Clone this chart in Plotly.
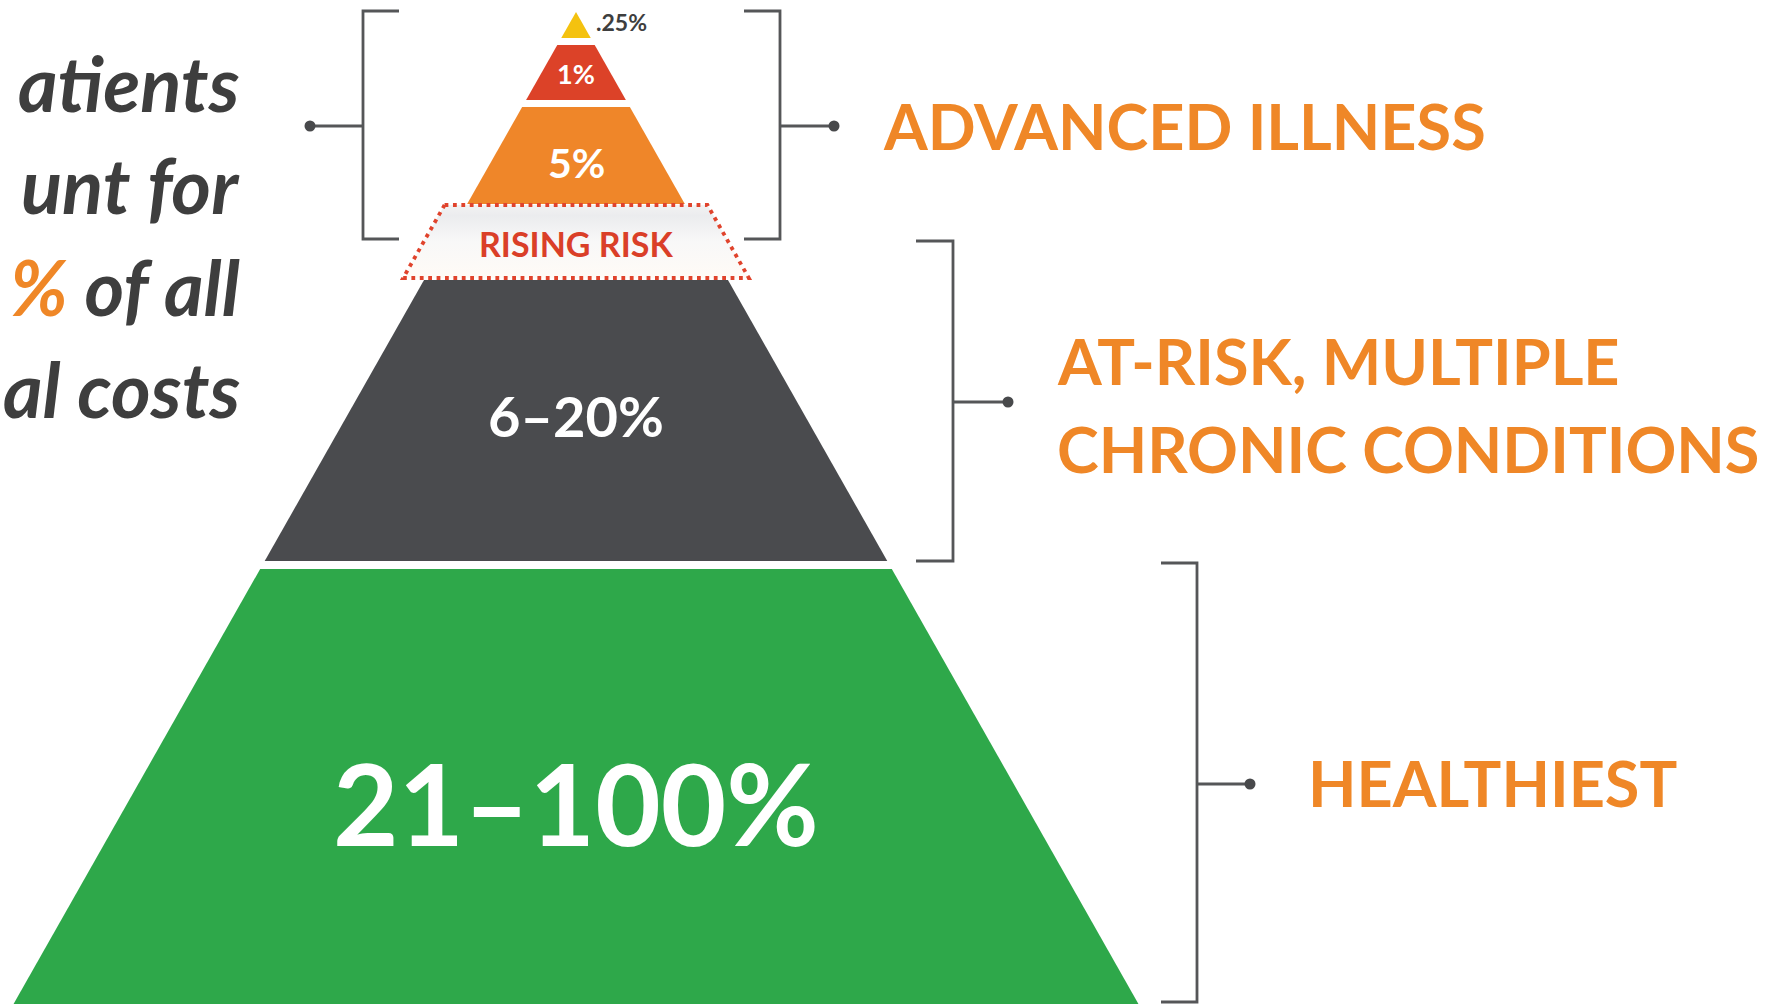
import plotly.graph_objects as go

# ---------------- content ----------------
tier_labels = [".25%", "1%", "5%", "RISING RISK", "6–20%", "21–100%"]
group_lines = [["ADVANCED ILLNESS"], ["AT-RISK, MULTIPLE", "CHRONIC CONDITIONS"], ["HEALTHIEST"]]
side_lines = ["atients", "unt for", "<span style='color:#ef8727'>%</span> of all", "al costs"]

# ---------------- geometry / style ----------------
W, H = 1777, 1004
APEX_X, APEX_Y, SLOPE = 576, 12, 0.567
band_top = [12, 45, 107, 204, 280, 569]
band_bot = [38, 100, 204, 278, 561, 1004]
band_col = ["#f4c20f", "#dc4228", "#ef8629", None, "#4a4b4e", "#2ea84a"]
RISK_OUT = 22

ORANGE = "#ef8727"
GRAY = "#555658"
TXT = "#3e3e3e"
FONT = "Lato"

fig = go.Figure()


def half(y):
    return SLOPE * (y - APEX_Y)


for t, b, c in zip(band_top, band_bot, band_col):
    if c is None:
        continue
    xs = [APEX_X - half(t), APEX_X + half(t), APEX_X + half(b), APEX_X - half(b), APEX_X - half(t)]
    ys = [t, t, b, b, t]
    fig.add_trace(go.Scatter(x=xs, y=ys, mode="lines", fill="toself", fillcolor=c,
                             line=dict(width=0, color=c), hoverinfo="skip", showlegend=False))

# rising-risk band (dotted outline, light gradient fill)
t, b = band_top[3] + 1, band_bot[3]
rx = [APEX_X - half(t) - RISK_OUT, APEX_X + half(t) + RISK_OUT,
      APEX_X + half(b) + RISK_OUT, APEX_X - half(b) - RISK_OUT, APEX_X - half(t) - RISK_OUT]
ry = [t, t, b, b, t]
fig.add_trace(go.Scatter(x=rx, y=ry, mode="lines", fill="toself",
                         fillgradient=dict(type="vertical",
                                           colorscale=[[0, "#fffbf6"], [0.5, "#f8f8f8"],
                                                       [0.85, "#ebecee"], [1, "#f2f2f2"]]),
                         line=dict(width=0), hoverinfo="skip", showlegend=False))
fig.add_trace(go.Scatter(x=rx, y=ry, mode="lines",
                         line=dict(width=3.8, color="#e0432c", dash="3.8px,4.6px"),
                         hoverinfo="skip", showlegend=False))

# brackets
brackets = [
    dict(vx=363, tx=399, top=11, bot=239, mid=126, dot=310),
    dict(vx=780, tx=744, top=11, bot=239, mid=126, dot=834),
    dict(vx=953, tx=916, top=241, bot=561, mid=402, dot=1008),
    dict(vx=1197, tx=1161, top=563, bot=1002, mid=784, dot=1250),
]
for br in brackets:
    fig.add_trace(go.Scatter(x=[br["tx"], br["vx"], br["vx"], br["tx"]],
                             y=[br["top"], br["top"], br["bot"], br["bot"]],
                             mode="lines", line=dict(width=2.8, color=GRAY),
                             hoverinfo="skip", showlegend=False))
    fig.add_trace(go.Scatter(x=[br["vx"], br["dot"]], y=[br["mid"], br["mid"]],
                             mode="lines", line=dict(width=2.8, color=GRAY),
                             hoverinfo="skip", showlegend=False))
    fig.add_trace(go.Scatter(x=[br["dot"]], y=[br["mid"]], mode="markers",
                             marker=dict(size=11, color="#48494b"),
                             hoverinfo="skip", showlegend=False))

ann = []


def add_text(txt, x, y, size, color, xanchor="center", bold=True, italic=False):
    s = txt
    if italic:
        s = "<i>" + s + "</i>"
    if bold:
        s = "<b>" + s + "</b>"
    ann.append(dict(text=s, x=x, y=y, xref="x", yref="y", xanchor=xanchor, yanchor="middle",
                    showarrow=False, font=dict(family=FONT, size=size, color=color)))


# pyramid labels
add_text(tier_labels[0], 594, 22, 23, TXT, xanchor="left")
add_text(tier_labels[1], 576, 73, 27, "white")
add_text(tier_labels[2], 576, 162, 41, "white")
add_text(tier_labels[3], 576, 243, 34, "#da3f28")
add_text(tier_labels[4], 576, 415, 56, "white")
add_text(tier_labels[5], 576, 802, 113, "white")

# group labels
add_text(group_lines[0][0], 881, 125, 63, ORANGE, xanchor="left")
add_text(group_lines[1][0], 1055, 360, 63, ORANGE, xanchor="left")
add_text(group_lines[1][1], 1055, 448, 63, ORANGE, xanchor="left")
add_text(group_lines[2][0], 1306, 782, 63, ORANGE, xanchor="left")

# left statement (meets the page edge)
for i, line in enumerate(side_lines):
    add_text(line, 242, 82 + 102 * i, 76, TXT, xanchor="right", italic=True)

fig.update_layout(
    width=W, height=H, margin=dict(l=0, r=0, t=0, b=0),
    paper_bgcolor="white", plot_bgcolor="white",
    xaxis=dict(range=[0, W], visible=False, fixedrange=True),
    yaxis=dict(range=[H, 0], visible=False, fixedrange=True),
    annotations=ann, showlegend=False,
)
fig.write_html("out.html", config={"displayModeBar": False})
